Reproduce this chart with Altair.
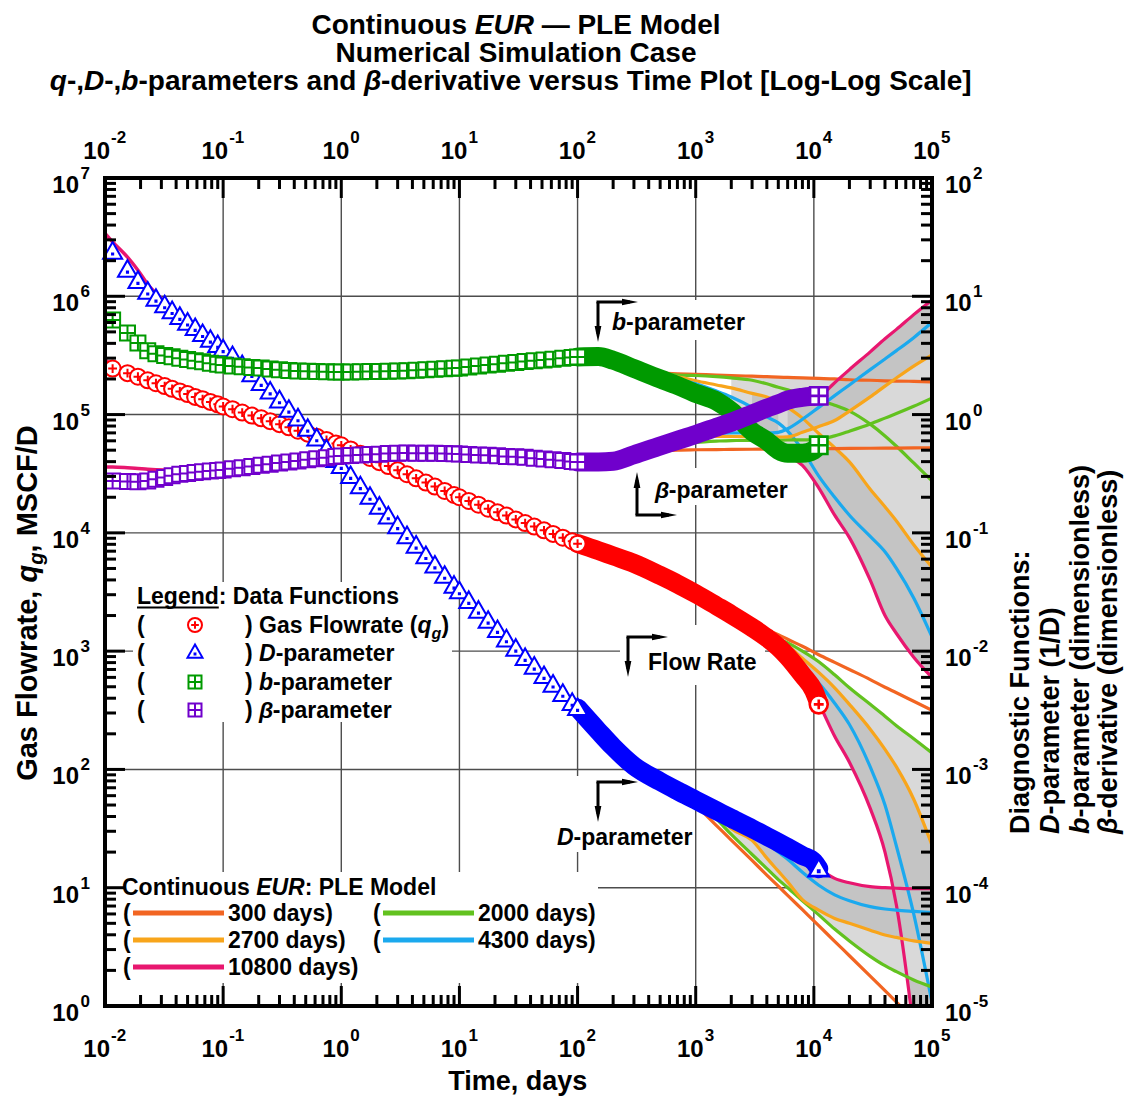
import altair as alt
import pandas as pd

# ------------------------------------------------------------------
# DATA
# ------------------------------------------------------------------
# time stamps of the individually visible markers (days)
t_marker = [0.0116, 0.0155, 0.019, 0.023, 0.027, 0.032, 0.037, 0.043, 0.05, 0.058, 0.067, 0.078, 0.09,
            0.1, 0.12, 0.145, 0.175, 0.21, 0.25, 0.3, 0.36, 0.43, 0.52, 0.62, 0.75, 0.9,
            1.0, 1.2, 1.45, 1.75, 2.1, 2.5, 3.0, 3.6, 4.3, 5.2, 6.2, 7.5, 9.0,
            10, 12, 14.5, 17.5, 21, 25, 30, 36, 43, 52, 62, 75, 90, 100]
# gas flowrate q_g, MSCF/D
q_marker = [2.45e5, 2.24e5, 2.09e5, 1.95e5, 1.84e5, 1.74e5, 1.65e5, 1.57e5, 1.49e5, 1.41e5, 1.35e5, 1.28e5, 1.22e5,
            1.17e5, 1.11e5, 1.04e5, 9.8e4, 9.3e4, 8.8e4, 8.3e4, 7.8e4, 7.3e4, 6.9e4, 6.5e4, 6.1e4, 5.7e4,
            5.5e4, 5.07e4, 4.67e4, 4.30e4, 3.96e4, 3.67e4, 3.39e4, 3.13e4, 2.89e4, 2.66e4, 2.46e4, 2.26e4, 2.09e4,
            2.0e4, 1.86e4, 1.73e4, 1.60e4, 1.49e4, 1.40e4, 1.30e4, 1.21e4, 1.13e4, 1.05e4, 9.8e3, 9.1e3, 8.5e3, 8.1e3]
# D-parameter, 1/D
D_marker = [23.9, 16.8, 13.5, 10.96, 9.55, 8.4, 7.5, 6.7, 6.0, 5.4, 4.8, 4.3, 3.88,
            3.57, 3.13, 2.63, 2.2, 1.85, 1.57, 1.32, 1.10, 0.93, 0.76, 0.63, 0.51, 0.414,
            0.368, 0.303, 0.248, 0.202, 0.167, 0.138, 0.114, 0.094, 0.078, 0.0637, 0.053, 0.0434, 0.0358,
            0.0321, 0.0266, 0.022, 0.0181, 0.0151, 0.0126, 0.0105, 0.00877, 0.0074, 0.00617, 0.00522, 0.00436, 0.00366, 0.00331]
# b-parameter (dimensionless)
b_marker = [6.3, 4.9, 4.03, 3.47, 3.27, 3.16, 3.08, 3.0, 2.92, 2.85, 2.79, 2.72, 2.66,
            2.62, 2.58, 2.54, 2.50, 2.47, 2.43, 2.39, 2.36, 2.34, 2.32, 2.31, 2.30, 2.29,
            2.29, 2.29, 2.30, 2.31, 2.31, 2.32, 2.33, 2.35, 2.37, 2.39, 2.42, 2.44, 2.46,
            2.48, 2.52, 2.57, 2.62, 2.66, 2.71, 2.76, 2.81, 2.85, 2.90, 2.94, 2.99, 3.04, 3.07]
# beta-derivative (dimensionless)
beta_marker = [0.275, 0.272, 0.270, 0.275, 0.284, 0.294, 0.304, 0.313, 0.318, 0.324, 0.328, 0.333, 0.337,
               0.340, 0.348, 0.356, 0.364, 0.372, 0.380, 0.389, 0.397, 0.406, 0.414, 0.423, 0.432, 0.442,
               0.447, 0.451, 0.455, 0.459, 0.463, 0.468, 0.471, 0.473, 0.472, 0.471, 0.470, 0.468, 0.466,
               0.465, 0.460, 0.456, 0.452, 0.448, 0.443, 0.440, 0.435, 0.428, 0.422, 0.415, 0.408, 0.402, 0.398]

# late time: markers so dense they form a solid band
t_band = [100, 150, 200, 300, 500, 700, 1000, 1500, 2000, 3000, 4000, 5000, 6000, 8000, 10000, 11000]
q_band = [8130, 7080, 6380, 5520, 4365, 3700, 3055, 2415, 2040, 1585, 1300, 1085, 900, 630, 462, 363]
D_band = [3.31e-3, 2.11e-3, 1.55e-3, 1.07e-3, 7.9e-4, 6.6e-4, 5.5e-4, 4.47e-4, 3.86e-4, 3.16e-4,
          2.72e-4, 2.42e-4, 2.19e-4, 1.87e-4, 1.66e-4, 1.45e-4]
b_band = [3.07, 3.09, 2.88, 2.45, 2.0, 1.76, 1.51, 1.30, 1.07, 0.72, 0.60, 0.50, 0.47, 0.47, 0.50, 0.55]
beta_band = [0.398, 0.398, 0.403, 0.457, 0.543, 0.605, 0.679, 0.782, 0.861, 1.01, 1.135, 1.23, 1.325, 1.40, 1.43, 1.44]

# last data point
t_end = [11000]
q_end = [355]
D_end = [1.45e-4]
b_end = [0.55]
beta_end = [1.44]

# PLE model trace at early time (visible just ahead of the first markers)
t_model0 = [0.01, 0.0116, 0.0155, 0.019, 0.023, 0.032, 0.05, 0.1, 0.2, 0.5, 1, 2, 5, 10, 20, 50, 100]
q_model0 = [2.9e5, 2.62e5, 2.3e5, 2.12e5, 1.96e5, 1.74e5, 1.49e5, 1.17e5, 9.4e4, 6.97e4, 5.5e4, 4.05e4, 2.7e4,
            2.0e4, 1.52e4, 1.06e4, 8.1e3]
D_model0 = [34, 28.8, 21.4, 16.6, 12.6, 9.0, 6.2, 3.7, 1.95, 0.80, 0.37, 0.176, 0.0664, 0.0321, 0.0158, 0.0064, 0.00331]
beta_model0 = [0.36, 0.36, 0.355, 0.35, 0.345, 0.34, 0.338, 0.345, 0.375, 0.415, 0.447, 0.462, 0.471, 0.465,
               0.449, 0.422, 0.398]

# Continuous EUR (PLE model) forecasts for different matching times
FAN_DAYS = ["300", "2000", "2700", "4300", "10800"]
t_fan = [300, 500, 700, 1000, 1500, 2000, 3000, 4000, 5000, 6000, 8000, 11000, 15000, 20000, 30000, 40000,
         50000, 70000, 100000]
q_fan = {
    "300":   [5520, 4365, 3700, 3100, 2470, 2100, 1690, 1510, 1380, 1260, 1100, 933, 804, 700, 575, 495, 445, 377, 316],
    "2000":  [5520, 4365, 3700, 3070, 2440, 2070, 1640, 1420, 1260, 1175, 1000, 813, 631, 490, 355, 282, 234, 182, 138],
    "2700":  [5520, 4365, 3700, 3060, 2430, 2050, 1620, 1380, 1180, 1100, 870, 661, 490, 355, 219, 148, 105, 56, 22.9],
    "4300":  [5520, 4365, 3700, 3055, 2415, 2040, 1590, 1320, 1110, 940, 720, 537, 363, 240, 105, 50, 22.4, 6.0, 1.07],
    "10800": [5520, 4365, 3700, 3055, 2415, 2040, 1585, 1300, 1085, 900, 630, 363, 191, 115, 46.8, 20, 7.1, 0.63, 0.025],
}
D_fan = {
    "300":   [1.074e-3, 7.87e-4, 6.59e-4, 4.98e-4, 3.35e-4, 2.53e-4, 1.70e-4, 1.28e-4, 1.03e-4, 8.63e-5, 6.52e-5,
              4.78e-5, 3.52e-5, 2.66e-5, 1.79e-5, 1.35e-5, 1.08e-5, 7.8e-6, 5.5e-6],
    "2000":  [1.074e-3, 7.87e-4, 6.59e-4, 5.37e-4, 3.80e-4, 2.82e-4, 1.91e-4, 1.45e-4, 1.17e-4, 1.0e-4, 7.76e-5,
              5.89e-5, 4.47e-5, 3.55e-5, 2.63e-5, 2.19e-5, 1.95e-5, 1.66e-5, 1.45e-5],
    "2700":  [1.074e-3, 7.87e-4, 6.59e-4, 5.43e-4, 4.27e-4, 3.16e-4, 2.51e-4, 1.78e-4, 1.38e-4, 1.12e-4, 7.94e-5,
              6.46e-5, 5.5e-5, 5.01e-5, 4.37e-5, 3.98e-5, 3.80e-5, 3.55e-5, 3.39e-5],
    "4300":  [1.074e-3, 7.87e-4, 6.59e-4, 5.47e-4, 4.47e-4, 3.80e-4, 2.95e-4, 2.40e-4, 2.0e-4, 1.74e-4, 1.35e-4,
              1.05e-4, 8.71e-5, 7.76e-5, 6.92e-5, 6.61e-5, 6.46e-5, 6.31e-5, 6.17e-5],
    "10800": [1.074e-3, 7.87e-4, 6.59e-4, 5.48e-4, 4.47e-4, 3.86e-4, 3.16e-4, 2.72e-4, 2.42e-4, 2.19e-4, 1.87e-4,
              1.45e-4, 1.20e-4, 1.10e-4, 1.02e-4, 1.0e-4, 9.9e-5, 9.8e-5, 9.8e-5],
}
b_fan = {
    "300":   [2.29, 2.24, 2.21, 2.19, 2.16, 2.14, 2.11, 2.09, 2.07, 2.06, 2.04, 2.02, 2.0, 1.97, 1.95, 1.93, 1.92, 1.91, 1.89],
    "2000":  [2.45, 2.24, 2.16, 2.14, 2.09, 2.04, 1.95, 1.82, 1.70, 1.62, 1.48, 1.33, 1.20, 1.07, 0.83, 0.66, 0.54, 0.39, 0.275],
    "2700":  [2.45, 2.24, 2.09, 1.93, 1.78, 1.68, 1.51, 1.41, 1.29, 1.15, 0.933, 0.692, 0.525, 0.398, 0.234, 0.166,
              0.126, 0.0794, 0.0513],
    "4300":  [2.45, 2.14, 2.0, 1.82, 1.58, 1.41, 1.15, 0.955, 0.851, 0.724, 0.501, 0.302, 0.20, 0.141, 0.0933, 0.0692,
              0.0501, 0.0282, 0.0132],
    "10800": [2.45, 2.0, 1.76, 1.51, 1.30, 1.07, 0.724, 0.589, 0.501, 0.447, 0.372, 0.24, 0.141, 0.0912, 0.0398, 0.020,
              0.0141, 0.0089, 0.006],
}
beta_fan = {
    "300":   [0.468, 0.49, 0.501, 0.504, 0.506, 0.507, 0.509, 0.511, 0.512, 0.513, 0.514, 0.515, 0.516, 0.518, 0.519,
              0.52, 0.521, 0.522, 0.524],
    "2000":  [0.457, 0.525, 0.562, 0.582, 0.596, 0.603, 0.605, 0.607, 0.608, 0.61, 0.61, 0.617, 0.661, 0.724, 0.832,
              0.933, 1.02, 1.175, 1.38],
    "2700":  [0.457, 0.537, 0.603, 0.646, 0.653, 0.653, 0.649, 0.646, 0.646, 0.649, 0.708, 0.794, 0.891, 1.07, 1.41,
              1.74, 2.04, 2.57, 3.20],
    "4300":  [0.457, 0.543, 0.605, 0.661, 0.692, 0.70, 0.70, 0.698, 0.708, 0.759, 0.912, 1.15, 1.445, 1.78, 2.40,
              2.95, 3.47, 4.47, 6.03],
    "10800": [0.457, 0.543, 0.605, 0.679, 0.782, 0.861, 1.01, 1.135, 1.23, 1.325, 1.40, 1.44, 1.86, 2.40, 3.39,
              4.37, 5.25, 7.0, 9.33],
}

# axes
decades_x = [1e-2, 1e-1, 1e0, 1e1, 1e2, 1e3, 1e4, 1e5]
x_exp = ["-2", "-1", "0", "1", "2", "3", "4", "5"]
decades_y = [1e0, 1e1, 1e2, 1e3, 1e4, 1e5, 1e6, 1e7]
yl_exp = ["0", "1", "2", "3", "4", "5", "6", "7"]
yr_exp = ["-5", "-4", "-3", "-2", "-1", "0", "1", "2"]

# ------------------------------------------------------------------
# STYLE / LAYOUT
# ------------------------------------------------------------------
W, H = 827, 828          # plot area
OX, OY = 105, 178        # page position of plot origin
R2L = 1e5                # right axis value -> left axis value
FONT = "Liberation Sans"
XS = alt.Scale(type="log", domain=[1e-2, 1e5], nice=False)
YS = alt.Scale(type="log", domain=[1e0, 1e7], nice=False)

C_RED, C_BLUE, C_GREEN, C_PURPLE = "#ff0000", "#0000ff", "#009a00", "#7000cc"
FAN_COL = {"300": "#f26522", "2000": "#62c21f", "2700": "#f8a51b", "4300": "#1ba9ee", "10800": "#e8176f"}
PINK = "#e8176f"

CIRC_PLUS = ("M-1,0C-1,-0.552,-0.552,-1,0,-1C0.552,-1,1,-0.552,1,0C1,0.552,0.552,1,0,1"
             "C-0.552,1,-1,0.552,-1,0Z M-0.55,0L0.55,0 M0,-0.55L0,0.55")
TRI_DOT = "M0,-1L1,0.75L-1,0.75Z M-0.06,0.2L0.06,0.2L0.06,0.32L-0.06,0.32Z"
SQ_CROSS = "M-1,-1L1,-1L1,1L-1,1Z M0,-1L0,1 M-1,0L1,0"
ARR_R = "M-1,-0.42L1,0L-1,0.42Z"
ARR_D = "M-0.42,-1L0,1L0.42,-1Z"
ARR_U = "M-0.42,1L0,-1L0.42,1Z"


def X(f="t"):
    return alt.X(f"{f}:Q", scale=XS, axis=None)


def Y(f):
    return alt.Y(f"{f}:Q", scale=YS, axis=None)


def PX(f):
    return alt.X(f"{f}:Q", scale=None, axis=None)


def PY(f):
    return alt.Y(f"{f}:Q", scale=None, axis=None)


# Arial/Liberation Sans Bold advance widths (1/1000 em) for text layout
ABW = dict(zip("abcdefghijklmnopqrstuvwxyz",
               [556, 611, 556, 611, 556, 333, 611, 611, 278, 278, 556, 278, 889, 611, 611, 611, 611, 389, 556,
                333, 611, 556, 778, 556, 556, 500]))
ABW.update(zip("ABCDEFGHIJKLMNOPQRSTUVWXYZ",
               [722, 722, 722, 722, 667, 611, 778, 722, 278, 556, 722, 611, 833, 722, 778, 667, 778, 722, 667,
                611, 722, 667, 944, 667, 667, 611]))
ABW.update({c: 556 for c in "0123456789"})
ABW.update({" ": 278, "-": 333, ",": 278, ".": 278, ":": 333, "(": 333, ")": 333, "[": 333, "]": 333,
            "/": 278, "\u2014": 1000, "\u03b2": 600})


def tw(s, size):
    return sum(ABW.get(ch, 556) for ch in s) * size / 1000.0


TEXTS = []


def add_rich(segs, x, y, size, anchor="left", angle=0):
    norm = []
    for s in segs:
        norm.append((s[0], s[1], s[2] if len(s) > 2 else 1.0, s[3] if len(s) > 3 else 0.0))
    widths = [tw(t, size * f) for t, it, f, dy in norm]
    total = sum(widths)
    pos = {"left": 0.0, "center": -total / 2.0, "right": -total}[anchor]
    for (t, it, f, dy), w in zip(norm, widths):
        lead = len(t) - len(t.lstrip(" "))
        p = pos + tw(" " * lead, size * f)
        s = t.strip(" ")
        if s:
            if angle == 0:
                TEXTS.append(dict(text=s, x=x + p - OX, y=y + dy - OY, size=size * f, italic=int(it), angle=0))
            else:
                TEXTS.append(dict(text=s, x=x + dy - OX, y=y - p - OY, size=size * f, italic=int(it), angle=angle))
        pos += w


layers = []

# ---------------- grid ----------------
layers.append(alt.Chart(pd.DataFrame({"v": decades_x[1:-1]})).mark_rule(color="#4d4d4d", strokeWidth=1.4)
              .encode(x=X("v"), y=alt.value(0), y2=alt.value(H)))
layers.append(alt.Chart(pd.DataFrame({"v": decades_y[1:-1]})).mark_rule(color="#4d4d4d", strokeWidth=1.4)
              .encode(y=Y("v"), x=alt.value(0), x2=alt.value(W)))

# ---------------- white boxes behind annotations ----------------
boxes = [(133, 582, 452, 722), (107, 872, 598, 983), (592, 300, 750, 340), (630, 468, 795, 505),
         (620, 625, 765, 685), (550, 776, 692, 852)]
bdf = pd.DataFrame([dict(x=a - OX, x2=c - OX, y=b - OY, y2=d - OY) for a, b, c, d in boxes])
layers.append(alt.Chart(bdf).mark_rect(fill="white").encode(x=PX("x"), x2="x2:Q", y=PY("y"), y2="y2:Q"))

# ---------------- forecast fans ----------------
# (name, values, unit factor, start of light fill, outer curve of light fill, start of dark fill)
fan_sets = [("q", q_fan, 1.0, 3000, "2000", 3000), ("D", D_fan, R2L, 1000, "2000", 1000),
            ("b", b_fan, R2L, 2000, "300", 3000), ("beta", beta_fan, R2L, 5000, "300", 6000)]
fan_frames = []
for name, fan, k, tlight, outer, tdark in fan_sets:
    df = pd.DataFrame({"t": t_fan, **{f"c{d}": [v * k for v in fan[d]] for d in FAN_DAYS}})
    fan_frames.append(df)
    sub = df[df["t"] >= tlight]
    layers.append(alt.Chart(sub).mark_area(color="#d9d9d9", clip=True, interpolate="monotone")
                  .encode(x=X(), y=Y("c10800"), y2=f"c{outer}:Q"))
    sub = df[df["t"] >= tdark]
    layers.append(alt.Chart(sub).mark_area(color="#c4c4c4", clip=True, interpolate="monotone")
                  .encode(x=X(), y=Y("c10800"), y2="c2700:Q"))
for df in fan_frames:
    for d in FAN_DAYS:
        layers.append(alt.Chart(df).mark_line(color=FAN_COL[d], strokeWidth=3.2, clip=True, interpolate="monotone")
                      .encode(x=X(), y=Y(f"c{d}")))

# ---------------- early PLE model trace ----------------
m0 = pd.DataFrame({"t": t_model0, "q": q_model0, "D": [v * R2L for v in D_model0],
                   "beta": [v * R2L for v in beta_model0]})
for f in ["q", "D", "beta"]:
    layers.append(alt.Chart(m0).mark_line(color=PINK, strokeWidth=3.5, clip=True, interpolate="monotone")
                  .encode(x=X(), y=Y(f)))

# ---------------- dense data (bands) ----------------
bd = pd.DataFrame({"t": t_band, "q": q_band, "D": [v * R2L for v in D_band],
                   "b": [v * R2L for v in b_band], "beta": [v * R2L for v in beta_band]})
for f, c in [("q", C_RED), ("D", C_BLUE), ("b", C_GREEN), ("beta", C_PURPLE)]:
    layers.append(alt.Chart(bd).mark_line(color=c, strokeWidth=19, strokeCap="round", strokeJoin="round",
                                          interpolate="monotone").encode(x=X(), y=Y(f)))

# ---------------- markers ----------------
mk = pd.DataFrame({"t": t_marker, "q": q_marker, "D": [v * R2L for v in D_marker],
                   "b": [v * R2L for v in b_marker], "beta": [v * R2L for v in beta_marker]})
for f, c, shp, sz in [("q", C_RED, CIRC_PLUS, 256), ("D", C_BLUE, TRI_DOT, 361),
                      ("b", C_GREEN, SQ_CROSS, 225), ("beta", C_PURPLE, SQ_CROSS, 225)]:
    layers.append(alt.Chart(mk).mark_point(shape=shp, size=sz, filled=True, fill="white", stroke=c,
                                           strokeWidth=2, opacity=1).encode(x=X(), y=Y(f)))

ed = pd.DataFrame({"t": t_end, "q": q_end, "D": [v * R2L for v in D_end],
                   "b": [v * R2L for v in b_end], "beta": [v * R2L for v in beta_end]})
for f, c, shp, sz in [("q", C_RED, CIRC_PLUS, 324), ("D", C_BLUE, TRI_DOT, 400),
                      ("b", C_GREEN, SQ_CROSS, 300), ("beta", C_PURPLE, SQ_CROSS, 300)]:
    layers.append(alt.Chart(ed).mark_point(shape=shp, size=sz, filled=True, fill="white", stroke=c,
                                           strokeWidth=2.6, opacity=1).encode(x=X(), y=Y(f)))

# ---------------- ticks (inward) ----------------
mult = [2, 3, 4, 5, 6, 7, 8, 9]
x_minor = [m * d for d in decades_x[:-1] for m in mult]
y_minor = [m * d for d in decades_y[:-1] for m in mult]
xt = pd.DataFrame({"v": decades_x + x_minor, "L": [20] * len(decades_x) + [11] * len(x_minor)})
yt = pd.DataFrame({"v": decades_y + y_minor, "L": [20] * len(decades_y) + [11] * len(y_minor)})
for ya, sign in [(H, -1), (0, 1)]:
    d = xt.assign(ya=ya, yb=ya + sign * xt["L"])
    layers.append(alt.Chart(d).mark_rule(color="black", strokeWidth=3)
                  .encode(x=X("v"), y=PY("ya"), y2="yb:Q"))
for xa, sign in [(0, 1), (W, -1)]:
    d = yt.assign(xa=xa, xb=xa + sign * yt["L"])
    layers.append(alt.Chart(d).mark_rule(color="black", strokeWidth=3)
                  .encode(y=Y("v"), x=PX("xa"), x2="xb:Q"))

# ---------------- tick labels ----------------
dfx = pd.DataFrame({"v": decades_x, "e": x_exp})
neg = dfx[dfx["e"].str.startswith("-")]
pos = dfx[~dfx["e"].str.startswith("-")]
for sub, c in [(neg, 5), (pos, 8)]:
    for ybase, yexp in [(H + 51, H + 35), (-19, -35)]:
        layers.append(alt.Chart(sub).mark_text(align="right", baseline="alphabetic", dx=c, font=FONT,
                                               fontWeight="bold", fontSize=24, color="black")
                      .encode(x=X("v"), y=alt.value(ybase), text=alt.value("10")))
        layers.append(alt.Chart(sub).mark_text(align="left", baseline="alphabetic", dx=c + 1, font=FONT,
                                               fontWeight="bold", fontSize=17, color="black")
                      .encode(x=X("v"), y=alt.value(yexp), text="e:N"))
dfl = pd.DataFrame({"v": decades_y, "e": yl_exp})
layers.append(alt.Chart(dfl).mark_text(align="right", baseline="alphabetic", dy=15, font=FONT, fontWeight="bold",
                                       fontSize=24, color="black")
              .encode(x=alt.value(-26), y=Y("v"), text=alt.value("10")))
layers.append(alt.Chart(dfl).mark_text(align="right", baseline="alphabetic", dy=1, font=FONT, fontWeight="bold",
                                       fontSize=17, color="black")
              .encode(x=alt.value(-15), y=Y("v"), text="e:N"))
dfr = pd.DataFrame({"v": decades_y, "e": yr_exp})
layers.append(alt.Chart(dfr).mark_text(align="left", baseline="alphabetic", dy=15, font=FONT, fontWeight="bold",
                                       fontSize=24, color="black")
              .encode(x=alt.value(W + 13), y=Y("v"), text=alt.value("10")))
layers.append(alt.Chart(dfr).mark_text(align="left", baseline="alphabetic", dy=1, font=FONT, fontWeight="bold",
                                       fontSize=17, color="black")
              .encode(x=alt.value(W + 41), y=Y("v"), text="e:N"))

# ---------------- texts ----------------
# titles
add_rich([("Continuous ", 0), ("EUR", 1), (" \u2014 PLE Model", 0)], 516, 34, 28, "center")
add_rich([("Numerical Simulation Case", 0)], 516, 62, 28, "center")
add_rich([("q", 1), ("-,", 0), ("D", 1), ("-,", 0), ("b", 1), ("-parameters and ", 0), ("\u03b2", 1),
          ("-derivative versus Time Plot [Log-Log Scale]", 0)], 511, 90, 28, "center")
# axis titles
add_rich([("Time, days", 0)], 518, 1090, 27, "center")
add_rich([("Gas Flowrate, ", 0), ("q", 1), ("g", 1, 0.7, 6), (", MSCF/D", 0)], 37, 603, 29, "center", 270)
add_rich([("Diagnostic Functions:", 0)], 1029, 834, 27, "left", 270)
add_rich([("D", 1), ("-parameter (1/D)", 0)], 1059, 834, 27, "left", 270)
add_rich([("b", 1), ("-parameter (dimensionless)", 0)], 1089, 834, 27, "left", 270)
add_rich([("\u03b2", 1), ("-derivative (dimensionless)", 0)], 1117, 834, 27, "left", 270)
# data legend
add_rich([("Legend", 0), (": Data Functions", 0)], 137, 604, 23)
for yb in [633, 661, 690, 718]:
    add_rich([("(", 0)], 137, yb, 23)
add_rich([(") Gas Flowrate (", 0), ("q", 1), ("g", 1, 0.7, 6), (")", 0)], 245, 633, 23)
add_rich([(") ", 0), ("D", 1), ("-parameter", 0)], 245, 661, 23)
add_rich([(") ", 0), ("b", 1), ("-parameter", 0)], 245, 690, 23)
add_rich([(") ", 0), ("\u03b2", 1), ("-parameter", 0)], 245, 718, 23)
# model legend
add_rich([("Continuous ", 0), ("EUR", 1), (": PLE Model", 0)], 122, 895, 23)
model_rows = [(921, 913, "300", 123), (921, 913, "2000", 373), (948, 940, "2700", 123), (948, 940, "4300", 373),
              (975, 967, "10800", 123)]
leg_lines = []
for yb, yc, d, x0 in model_rows:
    add_rich([("(", 0)], x0, yb, 23)
    add_rich([(f"{d} days)", 0)], x0 + 105, yb, 23)
    leg_lines.append(dict(x=x0 + 10 - OX, x2=x0 + 101 - OX, y=yc - OY, c=FAN_COL[d]))
# annotations
add_rich([("b", 1), ("-parameter", 0)], 612, 330, 23)
add_rich([("\u03b2", 1), ("-parameter", 0)], 655, 498, 23)
add_rich([("Flow Rate", 0)], 648, 670, 23)
add_rich([("D", 1), ("-parameter", 0)], 557, 845, 23)

# legend line samples
layers.append(alt.Chart(pd.DataFrame(leg_lines)).mark_rule(strokeWidth=5)
              .encode(x=PX("x"), x2="x2:Q", y=PY("y"), color=alt.Color("c:N", scale=None, legend=None)))
# underline of "Legend"
ul = pd.DataFrame([dict(x=137 - OX, x2=137 + tw("Legend", 23) - OX, y=607.5 - OY)])
layers.append(alt.Chart(ul).mark_rule(strokeWidth=2, color="black").encode(x=PX("x"), x2="x2:Q", y=PY("y")))
# legend symbols
for (px_, py_, shp, c, sz) in [(195, 625, CIRC_PLUS, C_RED, 196), (195, 652, TRI_DOT, C_BLUE, 225),
                               (195, 682, SQ_CROSS, C_GREEN, 169), (195, 710, SQ_CROSS, C_PURPLE, 169)]:
    layers.append(alt.Chart(pd.DataFrame({"x": [px_ - OX], "y": [py_ - OY]}))
                  .mark_point(shape=shp, size=sz, filled=True, fill="white", stroke=c, strokeWidth=2, opacity=1)
                  .encode(x=PX("x"), y=PY("y")))

# arrows: corner, horizontal tip x, vertical tip y
arrows = [(598, 302, 638, 342), (637, 515, 677, 472), (628, 637, 668, 677), (598, 782, 638, 822)]
seg, heads_r, heads_v = [], [], []
for cx, cy, hx, vy in arrows:
    up = vy < cy
    seg.append(dict(x=cx - 1.5 - OX, x2=hx - 8 - OX, y=cy - OY, y2=cy - OY))
    seg.append(dict(x=cx - OX, x2=cx - OX, y=cy - OY, y2=(vy + 8 if up else vy - 8) - OY))
    heads_r.append(dict(x=hx - 8 - OX, y=cy - OY))
    heads_v.append(dict(x=cx - OX, y=(vy + 8 if up else vy - 8) - OY, up=up))
layers.append(alt.Chart(pd.DataFrame(seg)).mark_rule(strokeWidth=3, color="black")
              .encode(x=PX("x"), x2="x2:Q", y=PY("y"), y2="y2:Q"))
layers.append(alt.Chart(pd.DataFrame(heads_r)).mark_point(shape=ARR_R, size=256, filled=True, color="black",
                                                          opacity=1).encode(x=PX("x"), y=PY("y")))
hv = pd.DataFrame(heads_v)
layers.append(alt.Chart(hv[hv["up"]][["x", "y"]]).mark_point(shape=ARR_U, size=256, filled=True, color="black",
                                                             opacity=1).encode(x=PX("x"), y=PY("y")))
layers.append(alt.Chart(hv[~hv["up"]][["x", "y"]]).mark_point(shape=ARR_D, size=256, filled=True, color="black",
                                                              opacity=1).encode(x=PX("x"), y=PY("y")))

# all text runs
tdf = pd.DataFrame(TEXTS)
for (it, ang), sub in tdf.groupby(["italic", "angle"]):
    layers.append(alt.Chart(sub[["text", "x", "y", "size"]]).mark_text(
        align="left", baseline="alphabetic", font=FONT, fontWeight="bold",
        fontStyle="italic" if it else "normal", angle=int(ang), color="black")
        .encode(x=PX("x"), y=PY("y"), text="text:N", size=alt.Size("size:Q", scale=None, legend=None)))

# frame
layers.append(alt.Chart(pd.DataFrame({"a": [0]})).mark_rect(fillOpacity=0, stroke="black", strokeWidth=4)
              .encode(x=alt.value(0), x2=alt.value(W), y=alt.value(0), y2=alt.value(H)))

chart = (alt.layer(*layers)
         .properties(width=W, height=H,
                     padding={"left": OX - 8, "top": OY - 8, "right": 198, "bottom": 95},
                     autosize=alt.AutoSizeParams(type="none"))
         .resolve_scale(x="independent", y="independent", size="independent", color="independent")
         .configure_view(strokeWidth=0))

chart.save("out.html", embed_options={"renderer": "svg", "actions": False})
